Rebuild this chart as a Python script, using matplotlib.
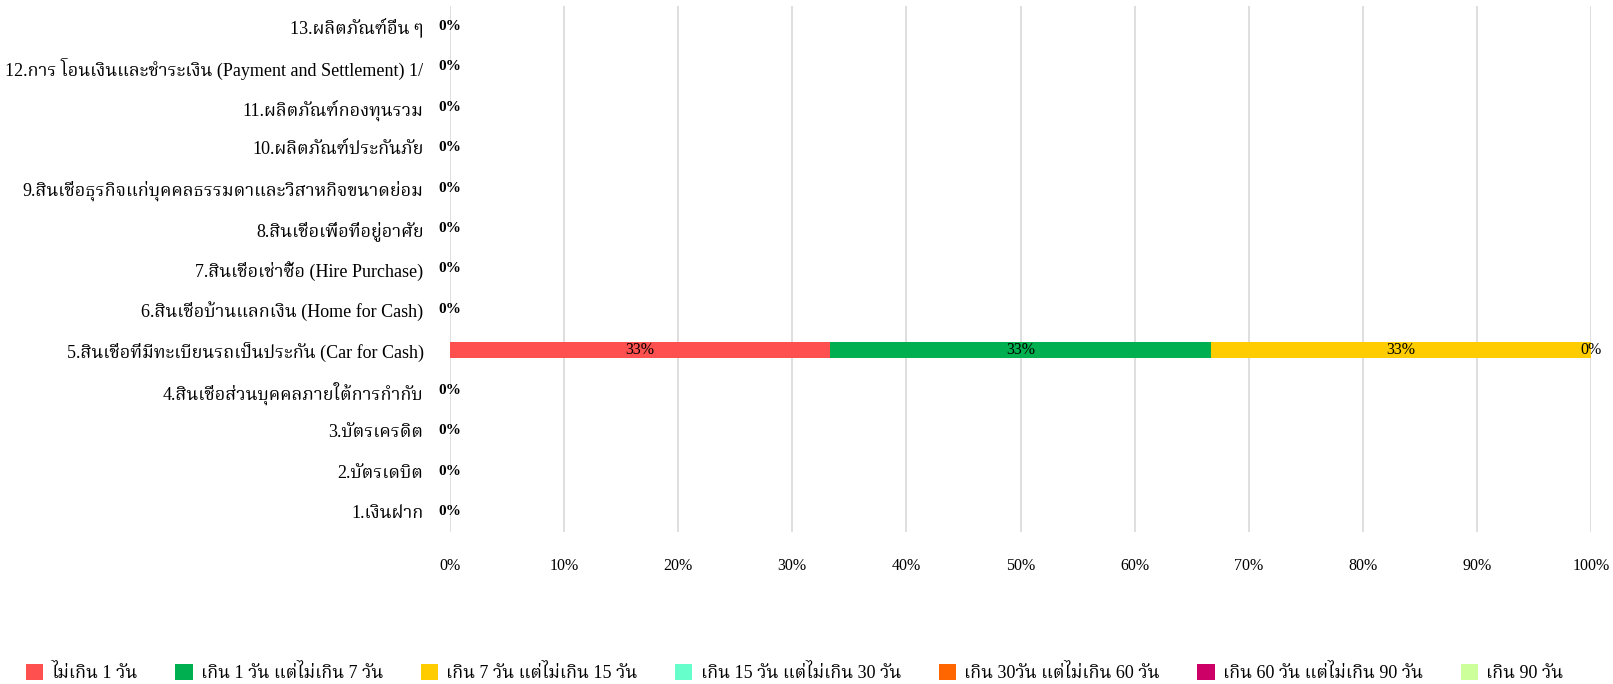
import matplotlib
matplotlib.use("Agg")
import matplotlib.pyplot as plt
from matplotlib.patches import Patch
import numpy as np

plt.rcParams['font.family'] = ['Liberation Serif', 'Noto Serif Thai', 'DejaVu Sans']

categories = [
    "1.เงินฝาก",
    "2.บัตรเดบิต",
    "3.บัตรเครดิต",
    "4.สินเชื่อส่วนบุคคลภายใต้การกำกับ",
    "5.สินเชื่อที่มีทะเบียนรถเป็นประกัน (Car for Cash)",
    "6.สินเชื่อบ้านแลกเงิน (Home for Cash)",
    "7.สินเชื่อเช่าซื้อ (Hire Purchase)",
    "8.สินเชื่อเพื่อที่อยู่อาศัย",
    "9.สินเชื่อธุรกิจแก่บุคคลธรรมดาและวิสาหกิจขนาดย่อม",
    "10.ผลิตภัณฑ์ประกันภัย",
    "11.ผลิตภัณฑ์กองทุนรวม",
    "12.การ โอนเงินและชำระเงิน (Payment and Settlement) 1/",
    "13.ผลิตภัณฑ์อื่น ๆ",
]

series_names = [
    "ไม่เกิน 1 วัน",
    "เกิน 1 วัน แต่ไม่เกิน 7 วัน",
    "เกิน 7 วัน แต่ไม่เกิน 15 วัน",
    "เกิน 15 วัน แต่ไม่เกิน 30 วัน",
    "เกิน 30วัน แต่ไม่เกิน 60 วัน",
    "เกิน 60 วัน แต่ไม่เกิน 90 วัน",
    "เกิน 90 วัน",
]

# share of each row (percent), one list per series, rows 1..13
s_le1 = [0, 0, 0, 0, 33.33, 0, 0, 0, 0, 0, 0, 0, 0]
s_1_7 = [0, 0, 0, 0, 33.33, 0, 0, 0, 0, 0, 0, 0, 0]
s_7_15 = [0, 0, 0, 0, 33.34, 0, 0, 0, 0, 0, 0, 0, 0]
s_15_30 = [0, 0, 0, 0, 0, 0, 0, 0, 0, 0, 0, 0, 0]
s_30_60 = [0, 0, 0, 0, 0, 0, 0, 0, 0, 0, 0, 0, 0]
s_60_90 = [0, 0, 0, 0, 0, 0, 0, 0, 0, 0, 0, 0, 0]
s_gt90 = [0, 0, 0, 0, 0, 0, 0, 0, 0, 0, 0, 0, 0]

# bold label shown for rows with no cases
row_total_labels = ["0%", "0%", "0%", "0%", "", "0%", "0%", "0%", "0%", "0%", "0%", "0%", "0%"]

xticks = [0, 10, 20, 30, 40, 50, 60, 70, 80, 90, 100]
xtick_labels = [f"{t}%" for t in xticks]

colors = ["#FF5050", "#00B050", "#FFCC00", "#66FFCC", "#FF6600", "#CC0066", "#CCFF99"]

series = [s_le1, s_1_7, s_7_15, s_15_30, s_30_60, s_60_90, s_gt90]

fig = plt.figure(figsize=(16.13, 6.84), dpi=100)
ax = fig.add_axes([450/1613, 1 - 532/684, 1141/1613, 526/684])

y = np.arange(len(categories))
left = np.zeros(len(categories))
placed = set()
for vals, col, name in zip(series, colors, series_names):
    v = np.array(vals, dtype=float)
    ax.barh(y, v, left=left, height=0.4, color=col, label=name, zorder=2)
    for i in range(len(categories)):
        if row_total_labels[i] == "":
            xc = left[i] + v[i] / 2
            key = (i, round(xc, 3))
            if key in placed:
                continue
            placed.add(key)
            ax.text(xc, y[i], f"{v[i]:.0f}%", ha='center', va='center',
                    fontsize=11.5, color='black', zorder=3)
    left += v

for i, lab in enumerate(row_total_labels):
    if lab:
        ax.text(0, y[i], lab, ha='center', va='center', fontsize=11,
                fontweight='bold', color='black', zorder=3)

ax.set_xlim(0, 100)
ax.set_ylim(-0.5, len(categories) - 0.5)
ax.set_xticks(xticks)
ax.set_xticklabels(xtick_labels, fontsize=11.5)
ax.set_yticks(y)
ax.set_yticklabels(categories, fontsize=13)
ax.tick_params(axis='both', length=0)
ax.tick_params(axis='y', pad=19)
ax.tick_params(axis='x', pad=18.5)
ax.grid(axis='x', color='#D9D9D9', linewidth=1.2, zorder=0)
ax.set_axisbelow(True)
for sp in ax.spines.values():
    sp.set_visible(False)

handles = [Patch(facecolor=c, edgecolor='none') for c in colors]
fig.legend(handles, series_names, loc='center left', bbox_to_anchor=(26/1613, 1 - 673/684),
           ncol=7, frameon=False, fontsize=13, handlelength=0.95, handleheight=0.95,
           handletextpad=0.45, columnspacing=2.1, borderaxespad=0, borderpad=0)

fig.savefig("out.png", dpi=100)
